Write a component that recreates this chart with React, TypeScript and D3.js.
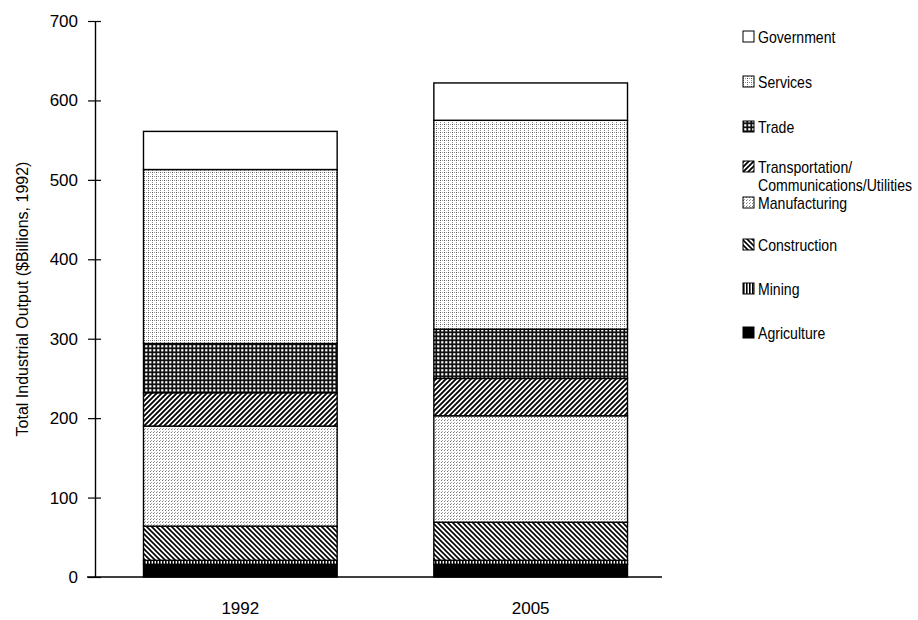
import React, { useRef, useEffect } from 'react';
import * as d3 from 'd3';

// chart data
const years = ['1992', '2005'];
const sectors = [
  'Agriculture',
  'Mining',
  'Construction',
  'Manufacturing',
  'Transportation',
  'Trade',
  'Services',
  'Government',
];
const agriculture = [16, 16];
const mining = [5, 5];
const construction = [43, 48];
const manufacturing = [126, 134];
const transportation = [42, 47];
const trade = [62, 62];
const services = [219, 263];
const government = [48, 47];
const yTicks = [0, 100, 200, 300, 400, 500, 600, 700];

// legend, top to bottom
const legendItems = [
  { key: 'Government', lines: ['Government'] },
  { key: 'Services', lines: ['Services'] },
  { key: 'Trade', lines: ['Trade'] },
  { key: 'Transportation', lines: ['Transportation/', 'Communications/Utilities'] },
  { key: 'Manufacturing', lines: ['Manufacturing'] },
  { key: 'Construction', lines: ['Construction'] },
  { key: 'Mining', lines: ['Mining'] },
  { key: 'Agriculture', lines: ['Agriculture'] },
];

const fills = {
  Agriculture: '#000',
  Mining: 'url(#p-mining)',
  Construction: 'url(#p-construction)',
  Manufacturing: 'url(#p-manufacturing)',
  Transportation: 'url(#p-transport)',
  Trade: 'url(#p-trade)',
  Services: 'url(#p-services)',
  Government: '#fff',
};

const App = () => {
  const svgRef = useRef(null);

  useEffect(() => {
    const svg = d3.select(svgRef.current);
    svg.selectAll('*').remove();

    const font = '"Liberation Sans", Arial, sans-serif';

    // patterns for the black and white fills
    const defs = svg.append('defs');

    const mk = (id, w, h) =>
      defs.append('pattern')
        .attr('id', id)
        .attr('patternUnits', 'userSpaceOnUse')
        .attr('width', w)
        .attr('height', h);

    const pm = mk('p-mining', 3, 3);
    pm.append('rect').attr('width', 3).attr('height', 3).attr('fill', '#fff');
    pm.append('rect').attr('width', 1.6).attr('height', 3).attr('fill', '#000');

    const pc = mk('p-construction', 5, 5);
    pc.append('rect').attr('width', 5).attr('height', 5).attr('fill', '#fff');
    pc.append('path').attr('d', 'M-1,-1 L6,6 M-1,4 L1,6 M4,-1 L6,1')
      .attr('stroke', '#000').attr('stroke-width', 1.6);

    const pt = mk('p-transport', 5, 5);
    pt.append('rect').attr('width', 5).attr('height', 5).attr('fill', '#fff');
    pt.append('path').attr('d', 'M-1,6 L6,-1 M-1,1 L1,-1 M4,6 L6,4')
      .attr('stroke', '#000').attr('stroke-width', 1.8);

    const pr = mk('p-trade', 4, 4);
    pr.append('rect').attr('width', 4).attr('height', 4).attr('fill', '#111');
    pr.append('rect').attr('x', 1.2).attr('y', 1.2).attr('width', 2.2).attr('height', 2.2).attr('fill', '#fff');

    const ps = mk('p-services', 4, 4);
    ps.append('rect').attr('width', 4).attr('height', 4).attr('fill', '#fff');
    ps.append('rect').attr('x', 0).attr('y', 0).attr('width', 1).attr('height', 1).attr('fill', '#555');
    ps.append('rect').attr('x', 2).attr('y', 0).attr('width', 1).attr('height', 1).attr('fill', '#999');
    ps.append('rect').attr('x', 0).attr('y', 2).attr('width', 1).attr('height', 1).attr('fill', '#888');

    const pf = mk('p-manufacturing', 3, 3);
    pf.append('rect').attr('width', 3).attr('height', 3).attr('fill', '#fff');
    pf.append('rect').attr('x', 0).attr('y', 0).attr('width', 1).attr('height', 1).attr('fill', '#777');
    pf.append('rect').attr('x', 1).attr('y', 2).attr('width', 1).attr('height', 1).attr('fill', '#aaa');

    // scales
    const x = d3.scaleBand()
      .domain(years)
      .range([95, 676])
      .paddingInner(0.333)
      .paddingOuter(0.167);

    const y = d3.scaleLinear()
      .domain([0, 700])
      .range([577, 21]);

    // stacked data
    const table = years.map((yr, i) => ({
      year: yr,
      Agriculture: agriculture[i],
      Mining: mining[i],
      Construction: construction[i],
      Manufacturing: manufacturing[i],
      Transportation: transportation[i],
      Trade: trade[i],
      Services: services[i],
      Government: government[i],
    }));
    const series = d3.stack().keys(sectors)(table);

    const bars = svg.append('g');
    series.forEach(s => {
      bars.selectAll(null)
        .data(s)
        .enter().append('rect')
        .attr('x', d => x(d.data.year))
        .attr('width', x.bandwidth())
        .attr('y', d => y(d[1]))
        .attr('height', d => y(d[0]) - y(d[1]))
        .attr('fill', fills[s.key])
        .attr('stroke', '#000')
        .attr('stroke-width', 1.4);
    });

    // y axis
    const yAxis = svg.append('g')
      .attr('transform', 'translate(95,0)')
      .call(d3.axisLeft(y).tickValues(yTicks).tickSizeInner(7).tickSizeOuter(0).tickPadding(10));
    yAxis.select('.domain').attr('stroke', '#000').attr('stroke-width', 1.4);
    yAxis.selectAll('.tick line').attr('x2', 6).attr('x1', -7).attr('stroke-width', 1.2);
    yAxis.selectAll('.tick text')
      .attr('font-family', font)
      .attr('font-size', 17)
      .attr('fill', '#000');

    // x axis line
    svg.append('line')
      .attr('x1', 87)
      .attr('x2', 662)
      .attr('y1', y(0))
      .attr('y2', y(0))
      .attr('stroke', '#000')
      .attr('stroke-width', 1.4);

    svg.append('g')
      .selectAll('text')
      .data(years)
      .enter().append('text')
      .attr('x', d => x(d) + x.bandwidth() / 2)
      .attr('y', 614)
      .attr('text-anchor', 'middle')
      .attr('font-family', font)
      .attr('font-size', 17)
      .text(d => d);

    // y axis title
    svg.append('text')
      .attr('transform', `translate(28,${(y(0) + y(700)) / 2}) rotate(-90)`)
      .attr('text-anchor', 'middle')
      .attr('font-family', font)
      .attr('font-size', 16)
      .text('Total Industrial Output ($Billions, 1992)');

    // legend
    const legendY = [37, 82, 127, 167, 203, 245, 289, 333];
    const legend = svg.append('g');
    legendItems.forEach((item, i) => {
      const g = legend.append('g').attr('transform', `translate(743,${legendY[i]})`);
      g.append('rect')
        .attr('x', 0)
        .attr('y', -6)
        .attr('width', 11)
        .attr('height', 11)
        .attr('fill', fills[item.key])
        .attr('stroke', '#000')
        .attr('stroke-width', 1);
      item.lines.forEach((ln, j) => {
        g.append('text')
          .attr('transform', `translate(15,${j * 18}) scale(0.88,1)`)
          .attr('dy', '0.35em')
          .attr('font-family', font)
          .attr('font-size', 16)
          .text(ln);
      });
    });
  }, []);

  return (
    <svg
      ref={svgRef}
      width={918}
      height={620}
      style={{ position: 'absolute', left: 0, top: 0, background: '#fff' }}
    />
  );
};

export default App;
